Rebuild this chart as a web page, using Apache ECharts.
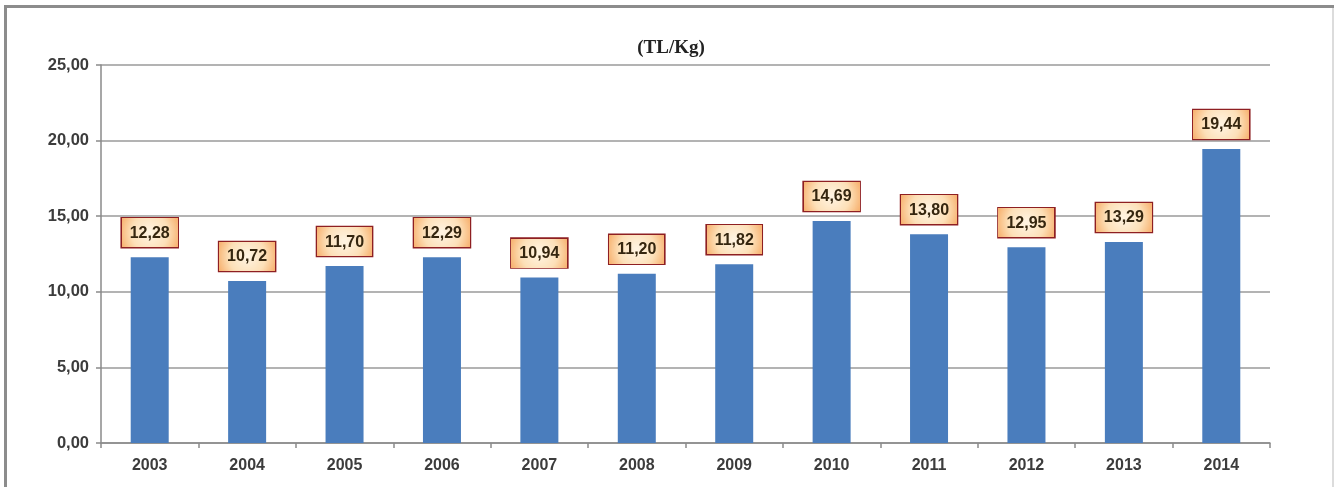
<!DOCTYPE html>
<html>
<head>
<meta charset="utf-8">
<script src="https://cdn.jsdelivr.net/npm/echarts@6/dist/echarts.min.js"></script>
<style>
html,body{margin:0;padding:0;background:#fff;}
#c{width:1342px;height:487px;}
</style>
</head>
<body>
<div id="c"></div>
<script>
const categories = ['2003','2004','2005','2006','2007','2008','2009','2010','2011','2012','2013','2014'];
const values = [12.28, 10.72, 11.70, 12.29, 10.94, 11.20, 11.82, 14.69, 13.80, 12.95, 13.29, 19.44];
const titleText = '(TL/Kg)';

function fmt(v){ return Number(v).toFixed(2).replace('.', ','); }

// gradient background image for data labels
const bg = document.createElement('canvas');
bg.width = 60; bg.height = 30;
const g = bg.getContext('2d');
const rg = g.createRadialGradient(30, 15, 2, 30, 15, 34);
rg.addColorStop(0, '#fff3e0');
rg.addColorStop(0.55, '#fde0b8');
rg.addColorStop(1, '#f7ae6a');
g.fillStyle = rg;
g.fillRect(0, 0, 60, 30);

const chart = echarts.init(document.getElementById('c'), null, {renderer: 'canvas'});
chart.setOption({
  animation: false,
  backgroundColor: '#ffffff',
  title: {
    text: titleText,
    left: 'center',
    top: 34,
    textStyle: {fontFamily: 'Liberation Serif', fontWeight: 'bold', fontSize: 19, color: '#222'}
  },
  graphic: [
    {type: 'line', shape: {x1: 4, y1: 6.5, x2: 1334, y2: 6.5}, style: {stroke: '#8c8c8c', lineWidth: 3}},
    {type: 'line', shape: {x1: 5.5, y1: 5, x2: 5.5, y2: 487}, style: {stroke: '#8c8c8c', lineWidth: 3}},
    {type: 'line', shape: {x1: 1333, y1: 8, x2: 1333, y2: 487}, style: {stroke: '#dcdcdc', lineWidth: 2}}
  ],
  grid: {left: 101, right: 72, top: 65, bottom: 44, containLabel: false},
  xAxis: {
    type: 'category',
    data: categories,
    boundaryGap: true,
    axisLine: {show: true, lineStyle: {color: '#8a8a8a', width: 1.5}},
    axisTick: {show: true, length: 5, lineStyle: {color: '#8a8a8a', width: 1.5}},
    axisLabel: {margin: 15, fontFamily: 'Liberation Sans', fontWeight: 'bold', fontSize: 16, color: '#3c3c3c'}
  },
  yAxis: {
    type: 'value',
    min: 0, max: 25, interval: 5,
    axisLine: {show: true, lineStyle: {color: '#8a8a8a', width: 1.5}},
    axisTick: {show: true, length: 5, lineStyle: {color: '#8a8a8a', width: 1.5}},
    splitLine: {show: true, lineStyle: {color: '#9a9a9a', width: 1.5}},
    axisLabel: {margin: 12, fontFamily: 'Liberation Sans', fontWeight: 'bold', fontSize: 16.5, color: '#3c3c3c', formatter: fmt}
  },
  series: [{
    type: 'bar',
    data: values,
    barWidth: 38,
    itemStyle: {color: '#4a7dbd'},
    label: {
      show: true,
      position: 'top',
      distance: 10,
      formatter: p => fmt(p.value),
      fontFamily: 'Liberation Sans',
      fontWeight: 'bold',
      fontSize: 16,
      color: '#35260f',
      backgroundColor: {image: bg},
      borderColor: '#8e1f22',
      borderWidth: 2.5,
      padding: [7, 8, 6, 8]
    }
  }]
});
</script>
</body>
</html>
